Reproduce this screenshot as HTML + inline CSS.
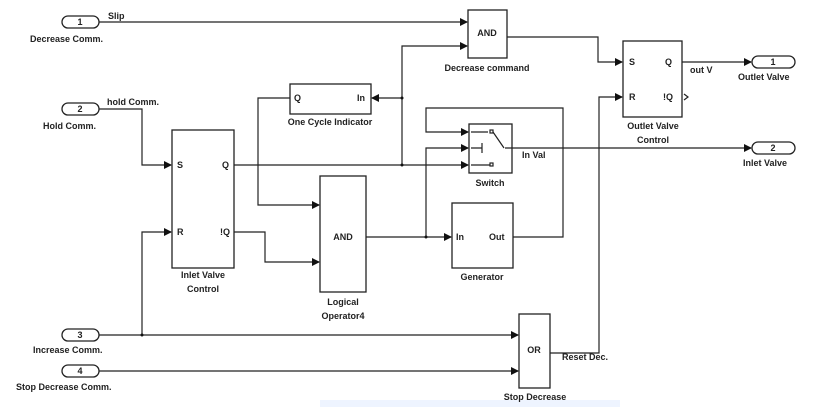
<!DOCTYPE html>
<html><head><style>
html,body{margin:0;padding:0;background:#fff;}
svg{display:block;}
text{font-family:"Liberation Sans",sans-serif;font-size:9px;font-weight:bold;fill:#222;}
.l{stroke:#222;stroke-width:1.2;fill:none;}
.b{stroke:#222;stroke-width:1.3;fill:#fff;}
</style></head><body>
<svg width="817" height="407" viewBox="0 0 817 407">
<defs><marker id="a" markerWidth="8" markerHeight="8" refX="7" refY="4" orient="auto" markerUnits="userSpaceOnUse"><path d="M0,0 L8,4 L0,8 z" fill="#111"/></marker></defs>
<rect x="320" y="400" width="300" height="7" fill="#eef4ff"/>
<rect class="b" x="62" y="16" width="37" height="12" rx="6"/><text x="80" y="25" text-anchor="middle">1</text>
<text x="30" y="42">Decrease Comm.</text>
<rect class="b" x="62" y="103" width="37" height="12" rx="6"/><text x="80" y="112" text-anchor="middle">2</text>
<text x="43" y="129">Hold Comm.</text>
<rect class="b" x="62" y="329" width="37" height="12" rx="6"/><text x="80" y="338" text-anchor="middle">3</text>
<text x="33" y="353">Increase Comm.</text>
<rect class="b" x="62" y="365" width="37" height="12" rx="6"/><text x="80" y="374" text-anchor="middle">4</text>
<text x="16" y="390">Stop Decrease Comm.</text>
<rect class="b" x="752" y="56" width="43" height="12" rx="6"/><text x="773" y="65" text-anchor="middle">1</text>
<text x="738" y="80">Outlet Valve</text>
<rect class="b" x="752" y="142" width="43" height="12" rx="6"/><text x="773" y="151" text-anchor="middle">2</text>
<text x="743" y="166">Inlet Valve</text>
<rect class="b" x="468" y="10" width="39" height="48"/><text x="487" y="36" text-anchor="middle">AND</text>
<text x="487" y="71" text-anchor="middle">Decrease command</text>
<rect class="b" x="623" y="41" width="59" height="76"/><text x="629" y="65">S</text><text x="665" y="65">Q</text><text x="629" y="100">R</text><text x="663" y="100">!Q</text>
<path d="M684,94 L688,97 L684,100" class="l"/>
<text x="653" y="129" text-anchor="middle">Outlet Valve</text><text x="653" y="143" text-anchor="middle">Control</text>
<text x="690" y="73">out V</text>
<rect class="b" x="290" y="84" width="81" height="30"/><text x="294" y="101">Q</text><text x="357" y="101">In</text>
<text x="330" y="125" text-anchor="middle">One Cycle Indicator</text>
<rect class="b" x="172" y="130" width="62" height="138"/><text x="177" y="168">S</text><text x="222" y="168">Q</text><text x="177" y="235">R</text><text x="220" y="235">!Q</text>
<text x="203" y="278" text-anchor="middle">Inlet Valve</text><text x="203" y="292" text-anchor="middle">Control</text>
<rect class="b" x="320" y="176" width="46" height="116"/><text x="343" y="240" text-anchor="middle">AND</text>
<text x="343" y="305" text-anchor="middle">Logical</text><text x="343" y="319" text-anchor="middle">Operator4</text>
<rect class="b" x="469" y="124" width="43" height="49"/>
<path class="l" d="M471,132 L488,132 M493,132 L504,148 M471,148 L482,148 M482,143 L482,153 M471,165 L490,165" /><rect x="490" y="130" width="3" height="3" class="l"/><rect x="490" y="163" width="3" height="3" class="l"/>
<text x="490" y="186" text-anchor="middle">Switch</text>
<text x="522" y="158">In Val</text>
<rect class="b" x="452" y="203" width="61" height="65"/><text x="456" y="240">In</text><text x="489" y="240">Out</text>
<text x="482" y="280" text-anchor="middle">Generator</text>
<rect class="b" x="519" y="314" width="31" height="74"/><text x="534" y="353" text-anchor="middle">OR</text>
<text x="562" y="360">Reset Dec.</text>
<text x="535" y="400" text-anchor="middle">Stop Decrease</text>
<text x="108" y="19">Slip</text>
<path class="l" marker-end="url(#a)" d="M99,22 L467,22"/>
<path class="l" marker-end="url(#a)" d="M402,165 L402,46 L467,46"/>
<path class="l" marker-end="url(#a)" d="M402,98 L372,98"/>
<path class="l" marker-end="url(#a)" d="M234,165 L468,165"/>
<path class="l" marker-end="url(#a)" d="M507,37 L598,37 L598,62 L622,62"/>
<path class="l" marker-end="url(#a)" d="M682,62 L751,62"/>
<path class="l" marker-end="url(#a)" d="M505,148 L751,148"/>
<text x="107" y="105">hold Comm.</text>
<path class="l" marker-end="url(#a)" d="M99,109 L142,109 L142,165 L171,165"/>
<path class="l" marker-end="url(#a)" d="M290,98 L258,98 L258,205 L319,205"/>
<path class="l" marker-end="url(#a)" d="M234,232 L265,232 L265,262 L319,262"/>
<path class="l" marker-end="url(#a)" d="M366,237 L451,237"/>
<path class="l" marker-end="url(#a)" d="M426,237 L426,148 L468,148"/>
<path class="l" marker-end="url(#a)" d="M513,237 L563,237 L563,108 L426,108 L426,132 L468,132"/>
<path class="l" marker-end="url(#a)" d="M99,335 L518,335"/>
<path class="l" marker-end="url(#a)" d="M142,335 L142,232 L171,232"/>
<path class="l" marker-end="url(#a)" d="M99,371 L518,371"/>
<path class="l" marker-end="url(#a)" d="M550,353 L599,353 L599,97 L622,97"/>
<g fill="#111"><circle cx="402" cy="98" r="1.5"/><circle cx="402" cy="165" r="1.5"/><circle cx="426" cy="237" r="1.5"/><circle cx="142" cy="335" r="1.5"/></g>
</svg>
</body></html>
